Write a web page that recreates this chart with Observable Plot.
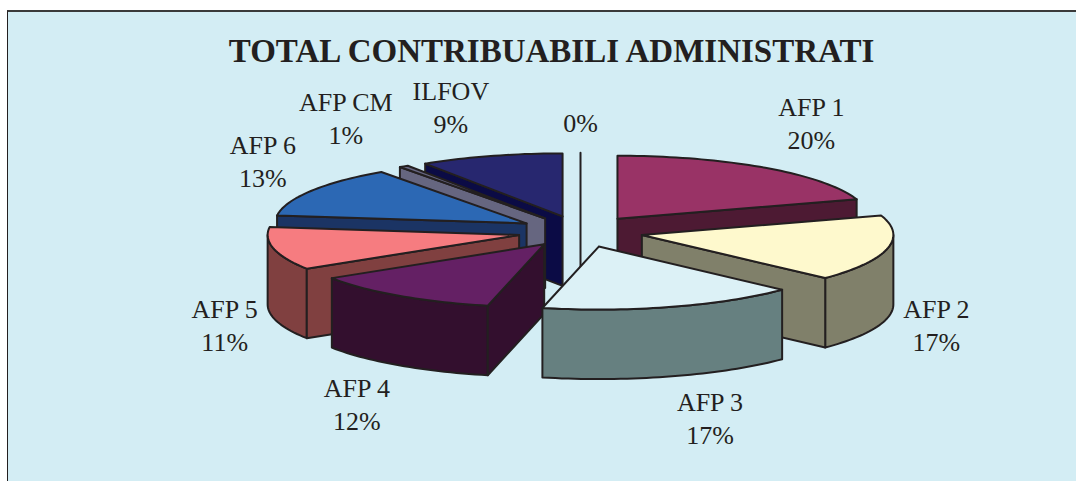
<!DOCTYPE html>
<html>
<head>
<meta charset="utf-8">
<script src="https://cdn.jsdelivr.net/npm/d3@7"></script>
<script src="https://cdn.jsdelivr.net/npm/@observablehq/plot@0.6"></script>
<style>
  html, body { margin: 0; padding: 0; background: #fff; overflow: hidden; }
  #panel {
    position: absolute; left: 7px; top: 10px; width: 1069px; height: 471px;
    box-sizing: border-box; background: #d3edf4;
    border-left: 1px solid #231f20; border-top: 2px solid #3a3a3a;
  }
  svg { display: block; }
</style>
</head>
<body>
<div id="panel"></div>
<script>
const title = "TOTAL CONTRIBUABILI ADMINISTRATI";
const categories = ["AFP 1", "AFP 2", "AFP 3", "AFP 4", "AFP 5", "AFP 6", "AFP CM", "ILFOV", ""];
const shares = [20, 17, 16.6, 12.4, 11, 13.2, 0.6, 9.2, 0];
const topColors = ["#993366", "#fef9cd", "#dcf1f6", "#642064", "#f67c80", "#2c68b4", "#666680", "#27276f", "#dcf1f6"];
const wallColors = ["#4d1a33", "#80806a", "#668080", "#330f2e", "#804040", "#1b3464", "#666680", "#0b0b45", "#668080"];
const paintOrder = [8, 7, 6, 5, 0, 4, 1, 3, 2];
const labelDx = [46, 49, 38, -42, -49, -48, -58, -40, 0];
const labelDy = [-46, 75, 110, 107, 75, -31, -49, -50, -31];

// Pie geometry: one x unit = pie radius across, one y unit = pie radius in depth.
const W = 1068, H = 469;
const RX = 251.5, RY = 63, CX = 572, CY = 219;
const EXPLODE = 0.25, THICK = 69.5 / RY;

const rad = d => d * Math.PI / 180;
const total = d3.sum(shares);
let acc = 0;
const slices = shares.map((v, i) => {
  const a = acc / total * 360; acc += v;
  const b = acc / total * 360;
  const m = (a + b) / 2;
  return {i, a, b, m, ox: EXPLODE * Math.sin(rad(m)), oy: EXPLODE * Math.cos(rad(m))};
});

function arc(s, from, to, drop) {
  const n = Math.max(1, Math.ceil((to - from) / 1.5));
  return d3.range(n + 1).map(k => {
    const t = from + (to - from) * k / n;
    return [s.ox + Math.sin(rad(t)), s.oy + Math.cos(rad(t)) - drop];
  });
}

const faces = [];
let fid = 0;
function face(pts, color) {
  const id = fid++;
  [...pts, pts[0]].forEach(p => faces.push({id, x: p[0], y: p[1], color}));
}
for (const idx of paintOrder) {
  const s = slices[idx];
  const wall = wallColors[idx], top = topColors[idx];
  const apex = [s.ox, s.oy], apexLow = [s.ox, s.oy - THICK];
  if (shares[idx] === 0) {
    face([arc(s, s.a, s.a, 0)[0], apex, apexLow, apex], wall);
    continue;
  }
  const from = Math.max(s.a, 90), to = Math.min(s.b, 270);
  if (to > from) face([...arc(s, from, to, 0), ...arc(s, from, to, THICK).reverse()], wall);
  if (Math.sin(rad(s.a)) < -1e-9) {
    const p = arc(s, s.a, s.a, 0)[0];
    face([apex, p, [p[0], p[1] - THICK], apexLow], wall);
  }
  if (Math.sin(rad(s.b)) > 1e-9) {
    const p = arc(s, s.b, s.b, 0)[0];
    face([apex, p, [p[0], p[1] - THICK], apexLow], wall);
  }
  face([apex, ...arc(s, s.a, s.b, 0)], top);
}

const labels = slices.map(s => ({
  text: (categories[s.i] ? categories[s.i] + "\n" : "") + Math.round(shares[s.i]) + "%",
  x: (1 + EXPLODE) * Math.sin(rad(s.m)) + labelDx[s.i] / RX,
  y: (1 + EXPLODE) * Math.cos(rad(s.m)) - labelDy[s.i] / RY
}));

const chart = Plot.plot({
  width: W, height: H,
  margin: 0,
  style: {background: "transparent", fontFamily: "'Liberation Serif', serif"},
  x: {domain: [-CX / RX, (W - CX) / RX], axis: null},
  y: {domain: [-(H - CY) / RY, CY / RY], axis: null},
  color: {type: "identity"},
  marks: [
    Plot.line(faces, {
      x: "x", y: "y", z: "id", fill: "color",
      stroke: "#231f20", strokeWidth: 2, strokeLinejoin: "round", curve: "linear"
    }),
    Plot.text(labels, {
      x: "x", y: "y", text: "text",
      fontSize: 26, lineHeight: 1.27, fill: "#231f20", textAnchor: "middle"
    }),
    Plot.text([title], {
      frameAnchor: "top", dx: 9, dy: 26, fontSize: 33, fontWeight: "bold",
      lineAnchor: "top", fill: "#231f20"
    })
  ]
});
document.getElementById("panel").appendChild(chart);
</script>
</body>
</html>
